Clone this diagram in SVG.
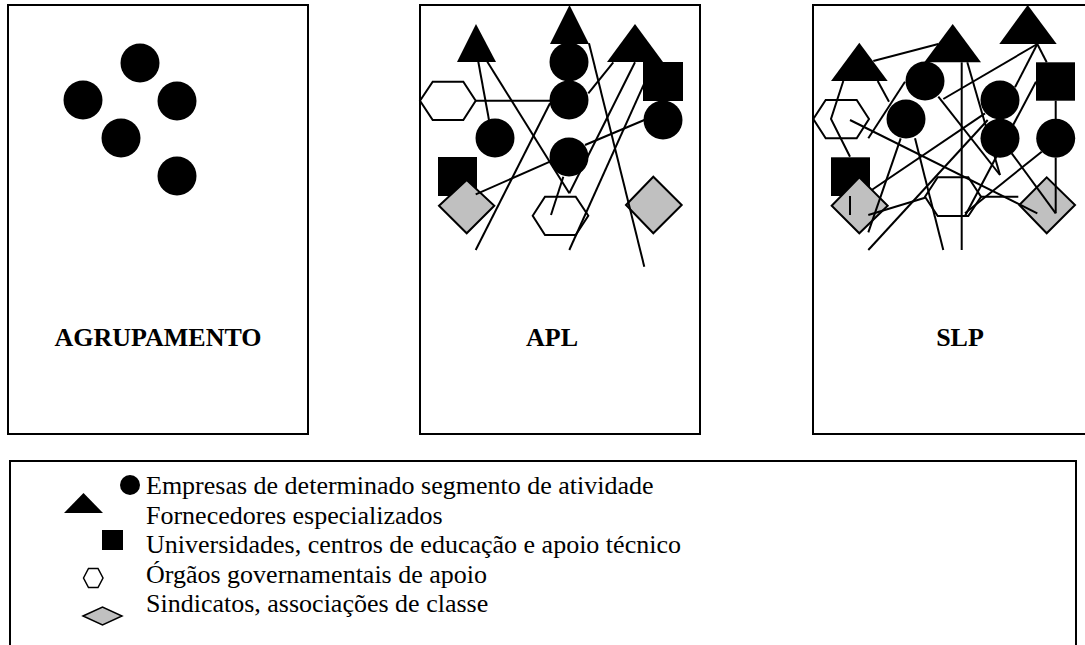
<svg xmlns="http://www.w3.org/2000/svg" width="1085" height="645" viewBox="0 0 1085 645">
<style>
.panel{fill:#fff;stroke:#000;stroke-width:2}
.blk{fill:#000;stroke:none}
.hex{fill:#fff;stroke:#000;stroke-width:2}
.dia{fill:#c0c0c0;stroke:#000;stroke-width:2}
.ln{stroke:#000;stroke-width:2;fill:none;stroke-linecap:butt}
.lbl{font-family:"Liberation Serif","Times New Roman",serif;font-weight:bold;font-size:26px;fill:#000}
.leg{font-family:"Liberation Serif","Times New Roman",serif;font-size:26px;fill:#000}
</style>
<rect width="1085" height="645" fill="#fff"/>

<g id="panel-agrupamento">
<rect class="panel" x="8" y="5" width="300" height="429"/>
<circle class="blk" cx="140" cy="63" r="19.5"/>
<circle class="blk" cx="83" cy="100" r="19.5"/>
<circle class="blk" cx="177" cy="101" r="19.5"/>
<circle class="blk" cx="121" cy="138" r="19.5"/>
<circle class="blk" cx="177" cy="176" r="19.5"/>
<text class="lbl" x="158" y="346" text-anchor="middle">AGRUPAMENTO</text>
</g>

<g id="panel-apl">
<rect class="panel" x="420" y="5" width="280" height="429"/>
<polygon class="blk" points="476,24 457,62 496,62"/>
<polygon class="blk" points="569.5,5 550,44 589,44"/>
<polygon class="blk" points="635,24 607,62 663,62"/>
<rect class="blk" x="643" y="62" width="40" height="39"/>
<circle class="blk" cx="569" cy="62" r="19.5"/>
<circle class="blk" cx="569" cy="100" r="19.5"/>
<circle class="blk" cx="495" cy="138" r="19.5"/>
<circle class="blk" cx="569" cy="157" r="19.5"/>
<circle class="blk" cx="663" cy="120" r="19.5"/>
<rect class="blk" x="438" y="157" width="39" height="39"/>
<polygon class="hex" points="420,100.7 432.7,81.7 463.3,81.7 475.7,100.7 463.3,120 432.7,120"/>
<polygon class="hex" points="532.7,215.7 545,196.7 575.7,196.7 588.3,215.7 575.7,235 545,235"/>
<polygon class="dia" points="439,205.7 466.7,180 494.3,205.7 466.7,233.3"/>
<polygon class="dia" points="626,205 653.3,176.7 681.7,205 653.3,233.3"/>
<text class="lbl" x="552" y="346" text-anchor="middle">APL</text>
</g>

<g id="panel-slp">
<rect class="panel" x="813" y="5" width="300" height="429"/>
<polygon class="blk" points="859.3,42.7 831,81 887.7,81"/>
<polygon class="blk" points="952.7,24 924.3,62.3 981,62.3"/>
<polygon class="blk" points="1027.7,5 999.3,44 1056.7,44"/>
<circle class="blk" cx="925" cy="81" r="19.5"/>
<circle class="blk" cx="906" cy="119" r="19.5"/>
<circle class="blk" cx="1000" cy="100" r="19.5"/>
<circle class="blk" cx="1000" cy="138.3" r="19.5"/>
<circle class="blk" cx="1055.7" cy="138.3" r="19.5"/>
<rect class="blk" x="1036" y="62.3" width="39" height="38.4"/>
<rect class="blk" x="831" y="157.3" width="39" height="38.7"/>
<polygon class="hex" points="813.3,119 825.7,100 856.7,100 869,119 856.7,138.3 825.7,138.3"/>
<polygon class="hex" points="925,196.7 937.7,177.3 968.3,177.3 981,196.7 968.3,216 937.7,216"/>
<polygon class="dia" points="831.7,205.7 859.3,177.3 887.7,205.7 859.3,233.3"/>
<polygon class="dia" points="1019.3,205 1046.7,177.3 1075,205 1046.7,233.3"/>
<text class="lbl" x="960" y="346" text-anchor="middle">SLP</text>
</g>

<g id="connectors">
<line class="ln" x1="478.3" y1="61.7" x2="489" y2="120"/>
<line class="ln" x1="487.3" y1="61.7" x2="569.3" y2="193.3"/>
<line class="ln" x1="475.7" y1="100.7" x2="550" y2="100.7"/>
<line class="ln" x1="550" y1="103.3" x2="475.7" y2="250"/>
<line class="ln" x1="588.3" y1="93.3" x2="613.3" y2="62.3"/>
<line class="ln" x1="589" y1="43.3" x2="644.3" y2="266.7"/>
<line class="ln" x1="635" y1="62.3" x2="569.3" y2="193.3"/>
<line class="ln" x1="644.3" y1="83.3" x2="569.3" y2="250"/>
<line class="ln" x1="644.3" y1="120" x2="585" y2="145"/>
<line class="ln" x1="550" y1="161.7" x2="475.7" y2="194.3"/>
<line class="ln" x1="563.3" y1="176.7" x2="551" y2="215"/>

<line class="ln" x1="873.3" y1="61" x2="938.3" y2="44"/>
<polyline class="ln" points="843.3,81 831,119 850,156.7"/>
<line class="ln" x1="877.7" y1="81" x2="889" y2="101.7"/>
<line class="ln" x1="905" y1="81.7" x2="868.3" y2="138.3"/>
<line class="ln" x1="850" y1="120" x2="1037.3" y2="213.3"/>
<line class="ln" x1="900.7" y1="138.3" x2="868.3" y2="232.3"/>
<line class="ln" x1="915" y1="138.3" x2="943.3" y2="250"/>
<line class="ln" x1="961.7" y1="62.3" x2="961.7" y2="250"/>
<line class="ln" x1="967.3" y1="62.3" x2="1000" y2="175"/>
<line class="ln" x1="938.3" y1="96.7" x2="1000" y2="175"/>
<line class="ln" x1="943.3" y1="99" x2="1037.3" y2="44"/>
<line class="ln" x1="1037.3" y1="44" x2="1015" y2="87.3"/>
<line class="ln" x1="1037.3" y1="44" x2="1046.7" y2="62.3"/>
<line class="ln" x1="1036" y1="81.7" x2="965" y2="216"/>
<line class="ln" x1="985" y1="113.3" x2="871.7" y2="190"/>
<line class="ln" x1="987.7" y1="120" x2="868.3" y2="250"/>
<line class="ln" x1="868.3" y1="215" x2="925" y2="197.7"/>
<line class="ln" x1="965" y1="213.3" x2="1041.7" y2="151.7"/>
<line class="ln" x1="981" y1="196.7" x2="1018.3" y2="196.7"/>
<line class="ln" x1="1011.7" y1="153.3" x2="1055.7" y2="213.3"/>
<line class="ln" x1="1055.7" y1="157.7" x2="1055.7" y2="213.3"/>
<line class="ln" x1="1055.7" y1="100.7" x2="1055.7" y2="119"/>
<line class="ln" x1="850" y1="196" x2="850" y2="215"/>
</g>

<g id="legend">
<rect class="panel" x="10" y="461" width="1066" height="200"/>
<circle class="blk" cx="130" cy="485" r="10"/>
<polygon class="blk" points="83.5,493 64,513 103,513"/>
<rect class="blk" x="102" y="530" width="21" height="20"/>
<polygon class="hex" style="stroke-width:1.5" points="83.5,578 88.5,568.5 98,568.5 103,578 98,587.5 88.5,587.5"/>
<polygon class="dia" style="stroke-width:1.5" points="83,616 102.5,607 122,616 102.5,625"/>
<text class="leg" x="146" y="494">Empresas de determinado segmento de atividade</text>
<text class="leg" x="146" y="523.5">Fornecedores especializados</text>
<text class="leg" x="146" y="553">Universidades, centros de educação e apoio técnico</text>
<text class="leg" x="146" y="582.5">Órgãos governamentais de apoio</text>
<text class="leg" x="146" y="612">Sindicatos, associações de classe</text>
</g>
</svg>
